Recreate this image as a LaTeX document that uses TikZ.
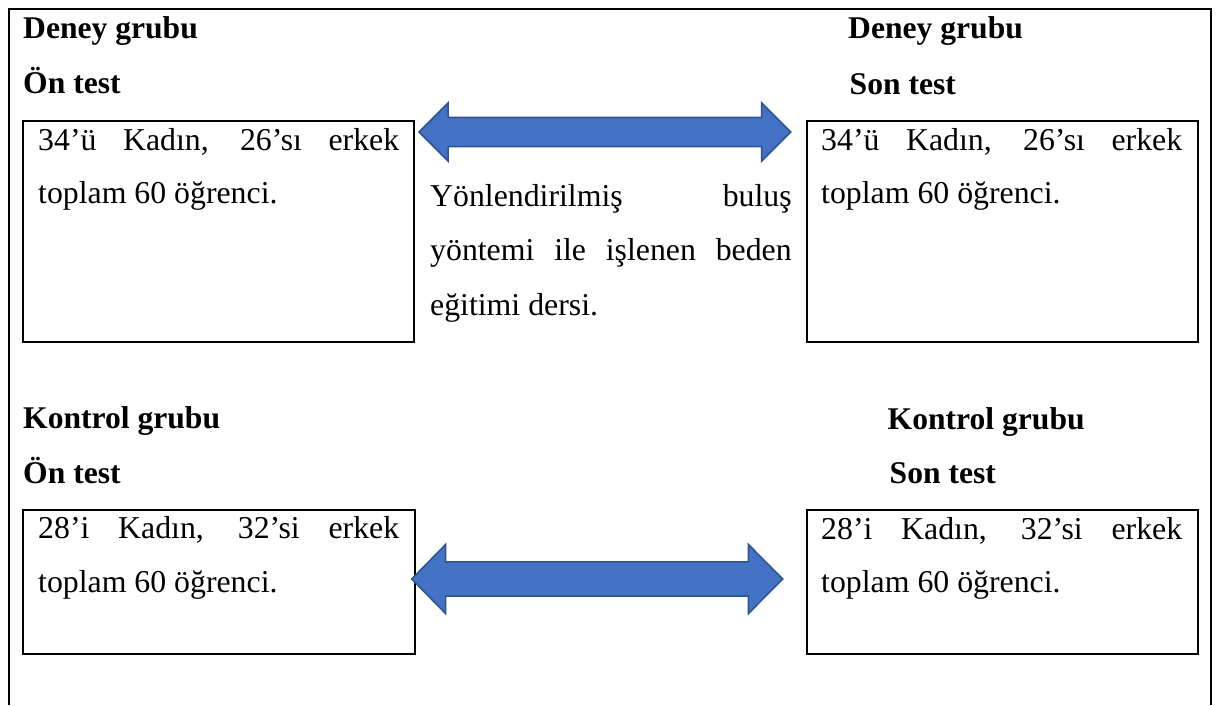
\documentclass[tikz,border=0pt]{standalone}
\usepackage{fontspec}
\setmainfont{Liberation Serif}
\definecolor{arrowblue}{HTML}{4472C4}
\definecolor{arrowedge}{HTML}{2F528F}
\begin{document}
\begin{tikzpicture}[x=1pt,y=-1pt,
  frameline/.style={line width=2pt},
  box/.style={draw, line width=2pt, inner sep=0pt, outer sep=0pt, anchor=north west},
  head/.style={font=\fontsize{31.6}{36}\selectfont\bfseries, anchor=base west, inner sep=0pt},
  body/.style={font=\fontsize{31.8}{36}\selectfont, anchor=base west, inner sep=0pt},
  blockarrow/.style={fill=arrowblue, draw=arrowedge, line width=1.5pt, line join=miter}]
\useasboundingbox (0,0) rectangle (1218,705);
% outer frame (open at the bottom)
\draw[frameline] (9,705) -- (9,9) -- (1211,9) -- (1211,705);

% boxes
\node[box, minimum width=391pt, minimum height=221pt] (b1) at (23,121) {};
\node[box, minimum width=391pt, minimum height=221pt] (b2) at (807,121) {};
\node[box, minimum width=392pt, minimum height=144pt] (b3) at (23,510) {};
\node[box, minimum width=391pt, minimum height=144pt] (b4) at (807,510) {};

% headings
\node[head] (h1) at (23,38) {Deney grubu};
\node[head] (h2) at (23,93.5) {Ön test};
\node[head] (h3) at (848,38) {Deney grubu};
\node[head] (h4) at (849.5,94) {Son test};
\node[head] (h5) at (23,428.5) {Kontrol grubu};
\node[head] (h6) at (23,483) {Ön test};
\node[head] (h7) at (887.5,429) {Kontrol grubu};
\node[head] (h8) at (889.5,483) {Son test};

% box texts
\node[body] (t1a) at (38,150) {\makebox[361pt][s]{34’ü Kadın, 26’sı erkek}};
\node[body] (t1b) at (38,203) {toplam 60 öğrenci.};
\node[body] (t2a) at (821,150) {\makebox[361pt][s]{34’ü Kadın, 26’sı erkek}};
\node[body] (t2b) at (821,203) {toplam 60 öğrenci.};
\node[body] (t3a) at (38,538) {\makebox[361pt][s]{28’i Kadın, 32’si erkek}};
\node[body] (t3b) at (38,592) {toplam 60 öğrenci.};
\node[body] (t4a) at (821,539) {\makebox[361pt][s]{28’i Kadın, 32’si erkek}};
\node[body] (t4b) at (821,592) {toplam 60 öğrenci.};

% middle text
\node[body] (m1) at (430,206) {\makebox[361.5pt][s]{Yönlendirilmiş buluş}};
\node[body] (m2) at (430,260) {\makebox[361.5pt][s]{yöntemi ile işlenen beden}};
\node[body] (m3) at (430,315) {eğitimi dersi.};

% block arrows
\draw[blockarrow] (419,132) -- (448,103) -- (448,117.3) -- (761.7,117.3) -- (761.7,103)
  -- (790.7,132) -- (761.7,161) -- (761.7,146.7) -- (448,146.7) -- (448,161) -- cycle;
\draw[blockarrow] (411.7,579) -- (445.7,544.3) -- (445.7,561.8) -- (748.3,561.8) -- (748.3,544.3)
  -- (782.7,579) -- (748.3,613.7) -- (748.3,596.2) -- (445.7,596.2) -- (445.7,613.7) -- cycle;
\end{tikzpicture}
\end{document}
